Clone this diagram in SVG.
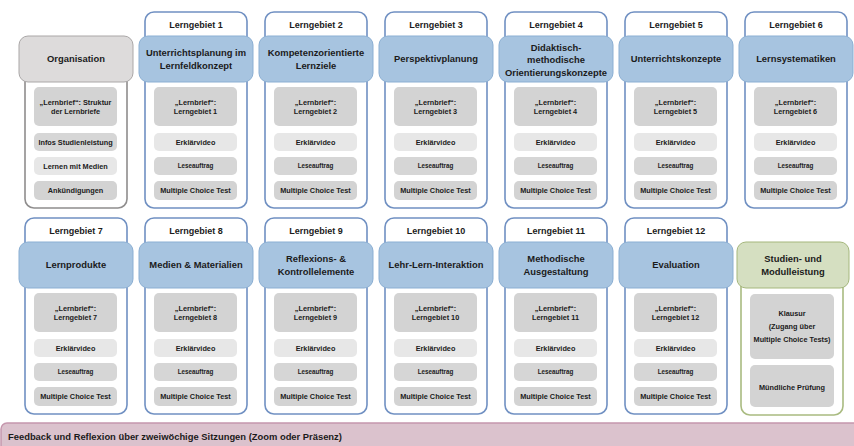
<svg xmlns="http://www.w3.org/2000/svg" width="854" height="446" viewBox="0 0 854 446">
<style>
text{font-family:"Liberation Sans",Arial,sans-serif;font-weight:bold;fill:#1b1b1b;text-anchor:middle}
.outer{fill:#fff;stroke:#7090c2;stroke-width:1.6}
.band{fill:#a7c4e0;stroke:#8bafd3;stroke-width:1}
.ttl{font-size:9px}
.bt{font-size:9.4px}
.it{font-size:7.3px}
.ls{font-size:6.3px}
.dark{fill:#d3d3d3}
.light{fill:#e7e7e7}
.mid{fill:#d6d6d6}
</style>
<rect width="854" height="446" fill="#fff"/>

<!-- Row 1 -->
<g id="organisation">
<rect x="25" y="60" width="102" height="148" rx="9" fill="#fff" stroke="#8f8d8d" stroke-width="1.6"/>
<rect x="19" y="36" width="114" height="46" rx="9" fill="#dddbdb" stroke="#aaa7a7"/>
<text class="bt" x="76" y="62.3">Organisation</text>
<rect class="dark" x="34" y="87" width="83" height="39" rx="5"/>
<text class="it" x="75.5" y="105">„Lernbrief“: Struktur</text>
<text class="it" x="75.5" y="114">der Lernbriefe</text>
<rect class="mid" x="34" y="133" width="83" height="18" rx="5"/>
<text class="it" x="75.5" y="144.6">Infos Studienleistung</text>
<rect class="light" x="34" y="157" width="83" height="18" rx="5"/>
<text class="it" x="75.5" y="168.6">Lernen mit Medien</text>
<rect class="dark" x="34" y="181" width="83" height="19" rx="5"/>
<text class="it" x="75.5" y="193.1">Ankündigungen</text>
</g>

<g id="lg1">
<rect class="outer" x="145" y="12" width="102" height="196" rx="9"/>
<text class="ttl" x="196" y="28.2">Lerngebiet 1</text>
<rect class="band" x="139" y="36" width="114" height="46" rx="9"/>
<text class="bt" x="196" y="56.4">Unterrichtsplanung im</text>
<text class="bt" x="196" y="69.4">Lernfeldkonzept</text>
<rect class="dark" x="154" y="87" width="83" height="39" rx="5"/>
<text class="it" x="195.5" y="105">„Lernbrief“:</text>
<text class="it" x="195.5" y="114">Lerngebiet 1</text>
<rect class="light" x="154" y="133" width="83" height="18" rx="5"/>
<text class="it" x="195.5" y="144.6">Erklärvideo</text>
<rect class="mid" x="154" y="157" width="83" height="18" rx="5"/>
<text class="ls" x="195.5" y="168.3">Leseauftrag</text>
<rect class="dark" x="154" y="181" width="83" height="19" rx="5"/>
<text class="it" x="195.5" y="193.1">Multiple Choice Test</text>
</g>

<g id="lg2">
<rect class="outer" x="265" y="12" width="102" height="196" rx="9"/>
<text class="ttl" x="316" y="28.2">Lerngebiet 2</text>
<rect class="band" x="259" y="36" width="114" height="46" rx="9"/>
<text class="bt" x="316" y="56.4">Kompetenzorientierte</text>
<text class="bt" x="316" y="69.4">Lernziele</text>
<rect class="dark" x="274" y="87" width="83" height="39" rx="5"/>
<text class="it" x="315.5" y="105">„Lernbrief“:</text>
<text class="it" x="315.5" y="114">Lerngebiet 2</text>
<rect class="light" x="274" y="133" width="83" height="18" rx="5"/>
<text class="it" x="315.5" y="144.6">Erklärvideo</text>
<rect class="mid" x="274" y="157" width="83" height="18" rx="5"/>
<text class="ls" x="315.5" y="168.3">Leseauftrag</text>
<rect class="dark" x="274" y="181" width="83" height="19" rx="5"/>
<text class="it" x="315.5" y="193.1">Multiple Choice Test</text>
</g>

<g id="lg3">
<rect class="outer" x="385" y="12" width="102" height="196" rx="9"/>
<text class="ttl" x="436" y="28.2">Lerngebiet 3</text>
<rect class="band" x="379" y="36" width="114" height="46" rx="9"/>
<text class="bt" x="436" y="62.4">Perspektivplanung</text>
<rect class="dark" x="394" y="87" width="83" height="39" rx="5"/>
<text class="it" x="435.5" y="105">„Lernbrief“:</text>
<text class="it" x="435.5" y="114">Lerngebiet 3</text>
<rect class="light" x="394" y="133" width="83" height="18" rx="5"/>
<text class="it" x="435.5" y="144.6">Erklärvideo</text>
<rect class="mid" x="394" y="157" width="83" height="18" rx="5"/>
<text class="ls" x="435.5" y="168.3">Leseauftrag</text>
<rect class="dark" x="394" y="181" width="83" height="19" rx="5"/>
<text class="it" x="435.5" y="193.1">Multiple Choice Test</text>
</g>

<g id="lg4">
<rect class="outer" x="505" y="12" width="102" height="196" rx="9"/>
<text class="ttl" x="556" y="28.2">Lerngebiet 4</text>
<rect class="band" x="499" y="36" width="114" height="46" rx="9"/>
<text class="bt" x="556" y="51">Didaktisch-</text>
<text class="bt" x="556" y="63.4">methodische</text>
<text class="bt" x="556" y="75.6">Orientierungskonzepte</text>
<rect class="dark" x="514" y="87" width="83" height="39" rx="5"/>
<text class="it" x="555.5" y="105">„Lernbrief“:</text>
<text class="it" x="555.5" y="114">Lerngebiet 4</text>
<rect class="light" x="514" y="133" width="83" height="18" rx="5"/>
<text class="it" x="555.5" y="144.6">Erklärvideo</text>
<rect class="mid" x="514" y="157" width="83" height="18" rx="5"/>
<text class="ls" x="555.5" y="168.3">Leseauftrag</text>
<rect class="dark" x="514" y="181" width="83" height="19" rx="5"/>
<text class="it" x="555.5" y="193.1">Multiple Choice Test</text>
</g>

<g id="lg5">
<rect class="outer" x="625" y="12" width="102" height="196" rx="9"/>
<text class="ttl" x="676" y="28.2">Lerngebiet 5</text>
<rect class="band" x="619" y="36" width="114" height="46" rx="9"/>
<text class="bt" x="676" y="62.4">Unterrichtskonzepte</text>
<rect class="dark" x="634" y="87" width="83" height="39" rx="5"/>
<text class="it" x="675.5" y="105">„Lernbrief“:</text>
<text class="it" x="675.5" y="114">Lerngebiet 5</text>
<rect class="light" x="634" y="133" width="83" height="18" rx="5"/>
<text class="it" x="675.5" y="144.6">Erklärvideo</text>
<rect class="mid" x="634" y="157" width="83" height="18" rx="5"/>
<text class="ls" x="675.5" y="168.3">Leseauftrag</text>
<rect class="dark" x="634" y="181" width="83" height="19" rx="5"/>
<text class="it" x="675.5" y="193.1">Multiple Choice Test</text>
</g>

<g id="lg6">
<rect class="outer" x="745" y="12" width="102" height="196" rx="9"/>
<text class="ttl" x="796" y="28.2">Lerngebiet 6</text>
<rect class="band" x="739" y="36" width="114" height="46" rx="9"/>
<text class="bt" x="796" y="62.4">Lernsystematiken</text>
<rect class="dark" x="754" y="87" width="83" height="39" rx="5"/>
<text class="it" x="795.5" y="105">„Lernbrief“:</text>
<text class="it" x="795.5" y="114">Lerngebiet 6</text>
<rect class="light" x="754" y="133" width="83" height="18" rx="5"/>
<text class="it" x="795.5" y="144.6">Erklärvideo</text>
<rect class="mid" x="754" y="157" width="83" height="18" rx="5"/>
<text class="ls" x="795.5" y="168.3">Leseauftrag</text>
<rect class="dark" x="754" y="181" width="83" height="19" rx="5"/>
<text class="it" x="795.5" y="193.1">Multiple Choice Test</text>
</g>

<!-- Row 2 -->
<g id="lg7">
<rect class="outer" x="25" y="218" width="102" height="196" rx="9"/>
<text class="ttl" x="76" y="234.2">Lerngebiet 7</text>
<rect class="band" x="19" y="242" width="114" height="46" rx="9"/>
<text class="bt" x="76" y="268.4">Lernprodukte</text>
<rect class="dark" x="34" y="293" width="83" height="39" rx="5"/>
<text class="it" x="75.5" y="311">„Lernbrief“:</text>
<text class="it" x="75.5" y="320">Lerngebiet 7</text>
<rect class="light" x="34" y="339" width="83" height="18" rx="5"/>
<text class="it" x="75.5" y="350.6">Erklärvideo</text>
<rect class="mid" x="34" y="363" width="83" height="18" rx="5"/>
<text class="ls" x="75.5" y="374.3">Leseauftrag</text>
<rect class="dark" x="34" y="387" width="83" height="19" rx="5"/>
<text class="it" x="75.5" y="399.1">Multiple Choice Test</text>
</g>

<g id="lg8">
<rect class="outer" x="145" y="218" width="102" height="196" rx="9"/>
<text class="ttl" x="196" y="234.2">Lerngebiet 8</text>
<rect class="band" x="139" y="242" width="114" height="46" rx="9"/>
<text class="bt" x="196" y="268.4">Medien &amp; Materialien</text>
<rect class="dark" x="154" y="293" width="83" height="39" rx="5"/>
<text class="it" x="195.5" y="311">„Lernbrief“:</text>
<text class="it" x="195.5" y="320">Lerngebiet 8</text>
<rect class="light" x="154" y="339" width="83" height="18" rx="5"/>
<text class="it" x="195.5" y="350.6">Erklärvideo</text>
<rect class="mid" x="154" y="363" width="83" height="18" rx="5"/>
<text class="ls" x="195.5" y="374.3">Leseauftrag</text>
<rect class="dark" x="154" y="387" width="83" height="19" rx="5"/>
<text class="it" x="195.5" y="399.1">Multiple Choice Test</text>
</g>

<g id="lg9">
<rect class="outer" x="265" y="218" width="102" height="196" rx="9"/>
<text class="ttl" x="316" y="234.2">Lerngebiet 9</text>
<rect class="band" x="259" y="242" width="114" height="46" rx="9"/>
<text class="bt" x="316" y="262.4">Reflexions- &amp;</text>
<text class="bt" x="316" y="275.4">Kontrollelemente</text>
<rect class="dark" x="274" y="293" width="83" height="39" rx="5"/>
<text class="it" x="315.5" y="311">„Lernbrief“:</text>
<text class="it" x="315.5" y="320">Lerngebiet 9</text>
<rect class="light" x="274" y="339" width="83" height="18" rx="5"/>
<text class="it" x="315.5" y="350.6">Erklärvideo</text>
<rect class="mid" x="274" y="363" width="83" height="18" rx="5"/>
<text class="ls" x="315.5" y="374.3">Leseauftrag</text>
<rect class="dark" x="274" y="387" width="83" height="19" rx="5"/>
<text class="it" x="315.5" y="399.1">Multiple Choice Test</text>
</g>

<g id="lg10">
<rect class="outer" x="385" y="218" width="102" height="196" rx="9"/>
<text class="ttl" x="436" y="234.2">Lerngebiet 10</text>
<rect class="band" x="379" y="242" width="114" height="46" rx="9"/>
<text class="bt" x="436" y="268.4">Lehr-Lern-Interaktion</text>
<rect class="dark" x="394" y="293" width="83" height="39" rx="5"/>
<text class="it" x="435.5" y="311">„Lernbrief“:</text>
<text class="it" x="435.5" y="320">Lerngebiet 10</text>
<rect class="light" x="394" y="339" width="83" height="18" rx="5"/>
<text class="it" x="435.5" y="350.6">Erklärvideo</text>
<rect class="mid" x="394" y="363" width="83" height="18" rx="5"/>
<text class="ls" x="435.5" y="374.3">Leseauftrag</text>
<rect class="dark" x="394" y="387" width="83" height="19" rx="5"/>
<text class="it" x="435.5" y="399.1">Multiple Choice Test</text>
</g>

<g id="lg11">
<rect class="outer" x="505" y="218" width="102" height="196" rx="9"/>
<text class="ttl" x="556" y="234.2">Lerngebiet 11</text>
<rect class="band" x="499" y="242" width="114" height="46" rx="9"/>
<text class="bt" x="556" y="262.4">Methodische</text>
<text class="bt" x="556" y="275.4">Ausgestaltung</text>
<rect class="dark" x="514" y="293" width="83" height="39" rx="5"/>
<text class="it" x="555.5" y="311">„Lernbrief“:</text>
<text class="it" x="555.5" y="320">Lerngebiet 11</text>
<rect class="light" x="514" y="339" width="83" height="18" rx="5"/>
<text class="it" x="555.5" y="350.6">Erklärvideo</text>
<rect class="mid" x="514" y="363" width="83" height="18" rx="5"/>
<text class="ls" x="555.5" y="374.3">Leseauftrag</text>
<rect class="dark" x="514" y="387" width="83" height="19" rx="5"/>
<text class="it" x="555.5" y="399.1">Multiple Choice Test</text>
</g>

<g id="lg12">
<rect class="outer" x="625" y="218" width="102" height="196" rx="9"/>
<text class="ttl" x="676" y="234.2">Lerngebiet 12</text>
<rect class="band" x="619" y="242" width="114" height="46" rx="9"/>
<text class="bt" x="676" y="268.4">Evaluation</text>
<rect class="dark" x="634" y="293" width="83" height="39" rx="5"/>
<text class="it" x="675.5" y="311">„Lernbrief“:</text>
<text class="it" x="675.5" y="320">Lerngebiet 12</text>
<rect class="light" x="634" y="339" width="83" height="18" rx="5"/>
<text class="it" x="675.5" y="350.6">Erklärvideo</text>
<rect class="mid" x="634" y="363" width="83" height="18" rx="5"/>
<text class="ls" x="675.5" y="374.3">Leseauftrag</text>
<rect class="dark" x="634" y="387" width="83" height="19" rx="5"/>
<text class="it" x="675.5" y="399.1">Multiple Choice Test</text>
</g>

<g id="studienleistung">
<rect x="741" y="266" width="102" height="149" rx="9" fill="#fff" stroke="#a9bb80" stroke-width="1.6"/>
<rect x="737" y="242" width="112" height="46" rx="9" fill="#d5dfc1" stroke="#a5b77d"/>
<text class="bt" x="793" y="262.4">Studien- und</text>
<text class="bt" x="793" y="275.4">Modulleistung</text>
<rect class="dark" x="750" y="294" width="84" height="65" rx="5"/>
<text class="it" x="792" y="316">Klausur</text>
<text class="it" x="792" y="329">(Zugang über</text>
<text class="it" x="792" y="342">Multiple Choice Tests)</text>
<rect class="dark" x="750" y="365" width="84" height="42" rx="5"/>
<text class="it" x="792" y="389.6">Mündliche Prüfung</text>
</g>

<g id="feedback">
<rect x="1" y="423" width="870" height="40" rx="6" fill="#dbc2cd" stroke="#c597ad" stroke-width="1.5"/>
<text x="8" y="440" style="font-size:9.4px;text-anchor:start">Feedback und Reflexion über zweiwöchige Sitzungen (Zoom oder Präsenz)</text>
</g>
</svg>
